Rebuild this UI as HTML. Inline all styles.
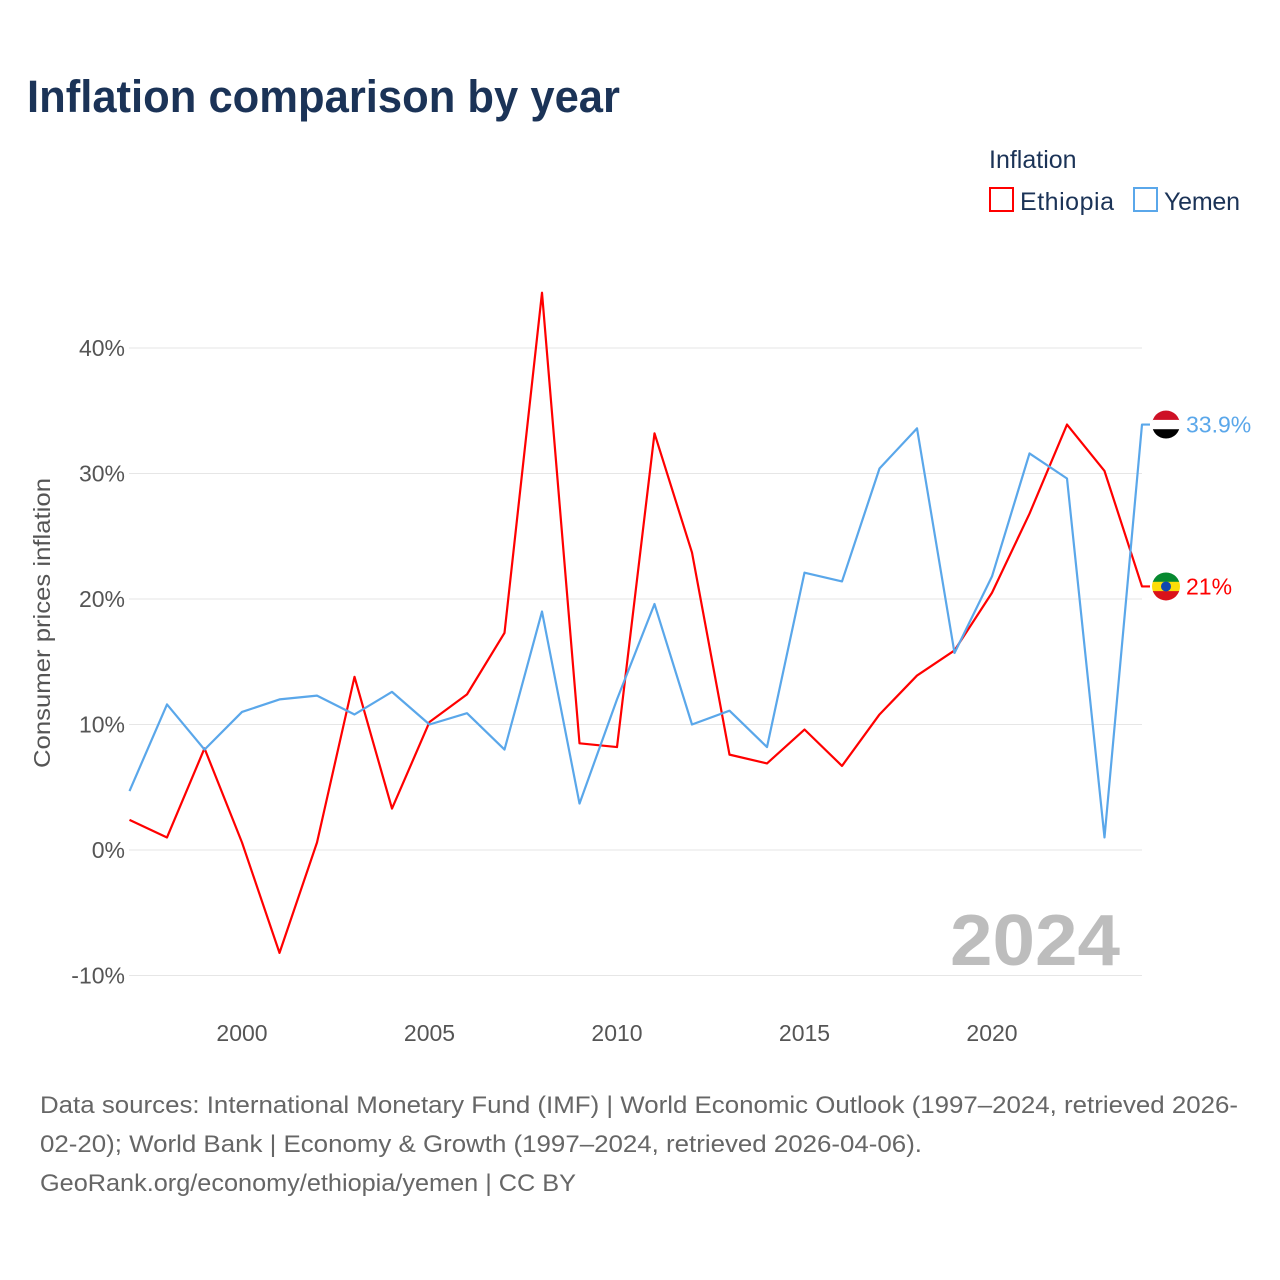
<!DOCTYPE html>
<html><head><meta charset="utf-8"><style>
body{margin:0;background:#fff;font-family:"Liberation Sans",sans-serif}
svg{display:block}
</style></head><body>
<svg id="c" width="1280" height="1280">
<text x="27" y="112" font-size="45" font-weight="bold" fill="#1b3357" textLength="593" lengthAdjust="spacingAndGlyphs">Inflation comparison by year</text>
<text x="989" y="168" font-size="25" fill="#1b3357">Inflation</text>
<g><rect x="990" y="188" width="23" height="23" fill="none" stroke="#f00" stroke-width="2"/><text x="1020" y="210" font-size="25" fill="#1b3357" textLength="94">Ethiopia</text></g>
<g><rect x="1134" y="188" width="23" height="23" fill="none" stroke="#5aa7ea" stroke-width="2"/><text x="1164" y="210" font-size="25" fill="#1b3357" textLength="76">Yemen</text></g>
<text transform="translate(50,623) rotate(-90)" text-anchor="middle" font-size="23" fill="#555" textLength="290" lengthAdjust="spacingAndGlyphs">Consumer prices inflation</text>
<g id="grid"></g><g id="xt"></g>
<text x="950" y="965" font-size="72" font-weight="bold" fill="#bdbdbd" textLength="170" lengthAdjust="spacingAndGlyphs">2024</text>
<g id="lines"></g>
<text x="40" y="1113" font-size="24" fill="#666" textLength="1198" lengthAdjust="spacingAndGlyphs">Data sources: International Monetary Fund (IMF) | World Economic Outlook (1997–2024, retrieved 2026-</text>
<text x="40" y="1152" font-size="24" fill="#666" textLength="882" lengthAdjust="spacingAndGlyphs">02-20); World Bank | Economy &amp; Growth (1997–2024, retrieved 2026-04-06).</text>
<text x="40" y="1191" font-size="24" fill="#666" textLength="536" lengthAdjust="spacingAndGlyphs">GeoRank.org/economy/ethiopia/yemen | CC BY</text>
</svg>
<script>
const years=[1997,1998,1999,2000,2001,2002,2003,2004,2005,2006,2007,2008,2009,2010,2011,2012,2013,2014,2015,2016,2017,2018,2019,2020,2021,2022,2023,2024];
const ethiopia=[2.4,1.0,8.1,0.6,-8.2,0.6,13.8,3.3,10.2,12.4,17.3,44.4,8.5,8.2,33.2,23.7,7.6,6.9,9.6,6.7,10.8,13.9,15.9,20.5,26.8,33.9,30.2,21.0];
const yemen=[4.7,11.6,8.0,11.0,12.0,12.3,10.8,12.6,10.0,10.9,8.0,19.0,3.7,12.0,19.6,10.0,11.1,8.2,22.1,21.4,30.4,33.6,15.7,21.8,31.6,29.6,1.0,33.9];
const yTicks=[-10,0,10,20,30,40];
const xTicks=[2000,2005,2010,2015,2020];
const NS="http://www.w3.org/2000/svg";
const X=y=>129.5+(y-1997)*37.5;
const Y=v=>850-v*12.55;
function mk(t,a,p){const e=document.createElementNS(NS,t);for(const k in a)e.setAttribute(k,a[k]);p.appendChild(e);return e;}
const grid=document.getElementById('grid'),xt=document.getElementById('xt'),lines=document.getElementById('lines');
yTicks.forEach(v=>{
 const l=mk('line',{x1:129,x2:1142,y1:Y(v),y2:Y(v),stroke:'#e6e6e6','stroke-width':1},grid);
 
 
 const t=mk('text',{x:125,y:Y(v)+8,'text-anchor':'end','font-size':23,fill:'#555'},grid);
 t.textContent=v+'%';
 
 
});
xTicks.forEach(y=>{
 const t=mk('text',{x:X(y),y:1041,'text-anchor':'middle','font-size':23,fill:'#555'},xt);
 t.textContent=y;
 
 
});
function series(vals,color,name,label,flag){
 const last=vals[vals.length-1];
 let d=vals.map((v,i)=>(i?'L':'M')+X(years[i])+','+Y(v)).join('')+'L1150,'+Y(last);
 const p=mk('path',{d:d,fill:'none',stroke:color,'stroke-width':2.2,'stroke-linejoin':'round'},lines);
 
 
 const cy=Y(last),g=mk('g',{},lines);
 
 
 const cid='clip'+name;const cp=mk('clipPath',{id:cid},g);mk('circle',{cx:1166,cy:cy,r:14},cp);
 flag.forEach((c,i)=>mk('rect',{x:1150,y:cy-14+i*28/3,width:32,height:28/3+0.5,fill:c,'clip-path':'url(#'+cid+')'},g));
 if(name==='ethiopia'){mk('circle',{cx:1166,cy:cy,r:5,fill:'#0f47af'},g);}
 const t=mk('text',{x:1186,y:cy+8,'font-size':23,fill:color},lines);
 t.textContent=label;
 
 
}
series(ethiopia,'#f00','ethiopia',ethiopia[ethiopia.length-1].toFixed(0)+'%',['#078930','#fcdd09','#da121a']);
series(yemen,'#5aa7ea','yemen',yemen[yemen.length-1].toFixed(1)+'%',['#ce1126','#ffffff','#000000']);
</script>
</body></html>
